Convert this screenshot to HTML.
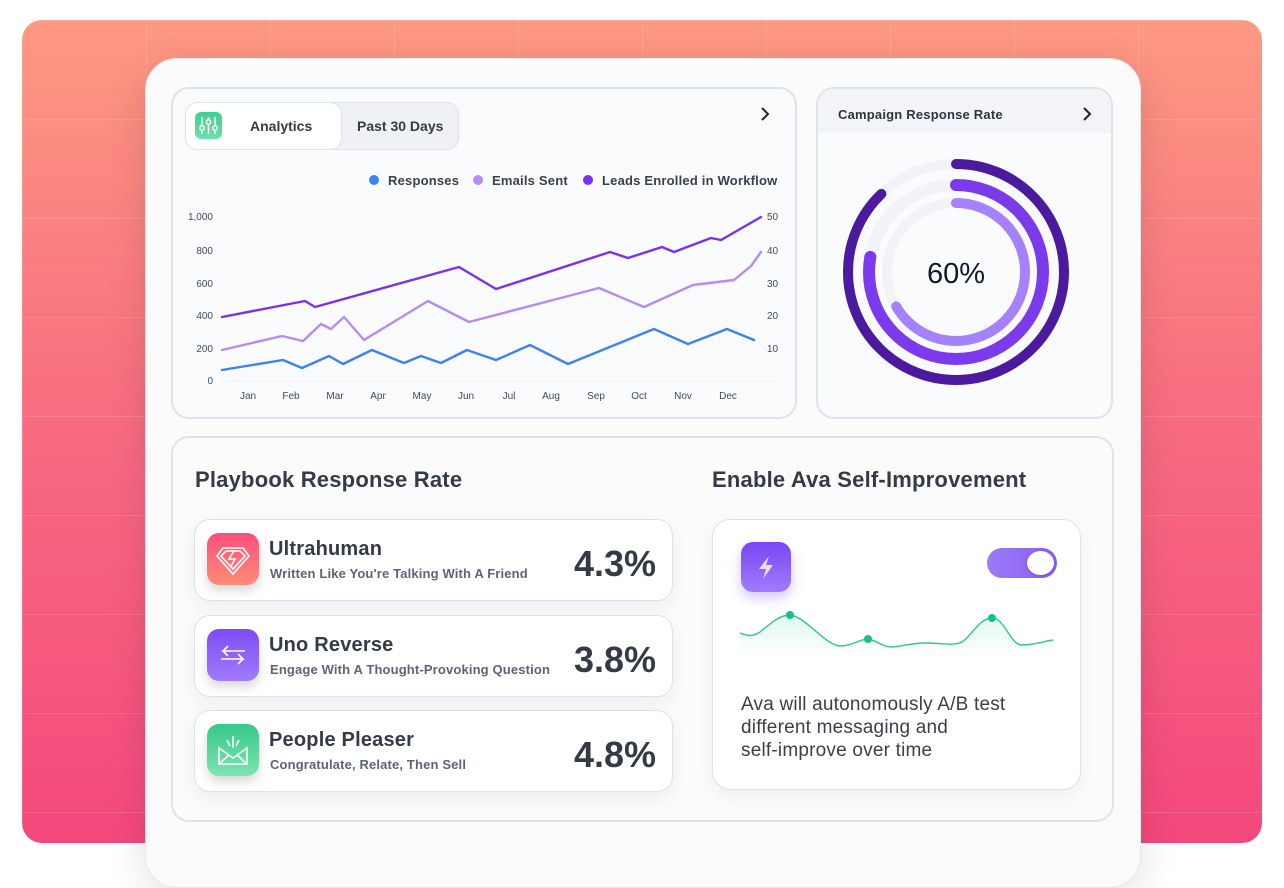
<!DOCTYPE html>
<html><head><meta charset="utf-8"><style>
*{margin:0;padding:0;box-sizing:border-box}
body{width:1284px;height:866px;background:#fff;position:relative;overflow:hidden;font-family:"Liberation Sans",sans-serif;color:#2f3441}
.abs{position:absolute}
.bg{left:22px;top:20px;width:1240px;height:823px;border-radius:20px;background:linear-gradient(180deg,#fd9982 0%,#f86f80 45%,#f4487d 100%);overflow:hidden}
.grid{position:absolute;inset:0;background-image:linear-gradient(rgba(255,255,255,.12) 1px,transparent 1px),linear-gradient(90deg,rgba(255,255,255,.12) 1px,transparent 1px);background-size:124px 99px;background-position:0 0}
.panel{left:145px;top:58px;width:996px;height:830px;border-radius:32px;background:#fbfbfc;border:1px solid #e6e8ee;box-shadow:0 10px 40px rgba(0,0,0,.12)}
.card{background:#fafbfc;border:2px solid #dfe3ea;border-radius:18px}
.item{left:194px;width:479px;height:82px;background:#fff;border:1.5px solid #dde1ea;border-radius:16px;box-shadow:0 6px 18px rgba(0,0,0,.06)}
.ico{position:absolute;left:12px;top:13px;width:52px;height:52px;border-radius:12px;box-shadow:0 6px 10px rgba(0,0,0,.15)}
.t1{position:absolute;left:74px;top:18px;font-size:20px;font-weight:bold;color:#353a46;letter-spacing:.2px}
.t2{position:absolute;left:75px;top:46px;font-size:13px;color:#5d6476;font-weight:bold;letter-spacing:.15px}
.pct{position:absolute;right:16px;top:23px;font-size:36px;font-weight:bold;color:#353a46}
.lg{font-size:13px;font-weight:bold;color:#3a3f4b;letter-spacing:.2px}
</style></head><body>
<div class="abs bg"><div class="grid"></div></div>
<div class="abs panel"></div>

<div class="abs card" style="left:171px;top:87px;width:626px;height:332px"></div>
<div class="abs" style="left:185px;top:102px;width:274px;height:48px;border:1.5px solid #dfe3ea;border-radius:12px;background:#eff1f5"></div>
<div class="abs" style="left:185px;top:102px;width:157px;height:48px;border:1.5px solid #dfe3ea;border-radius:12px;background:#fff"></div>
<div class="abs" style="left:195px;top:112px;width:27px;height:27px;border-radius:6px;background:linear-gradient(180deg,#3fcf8e,#6fe0a8)">
<svg width="27" height="27" viewBox="0 0 27 27" fill="none" stroke="#fff" stroke-width="1.5"><line x1="7" y1="5" x2="7" y2="22"/><line x1="13.5" y1="5" x2="13.5" y2="22"/><line x1="20" y1="5" x2="20" y2="22"/><circle cx="7" cy="16" r="2.2" fill="#4fd597"/><circle cx="13.5" cy="10" r="2.2" fill="#4fd597"/><circle cx="20" cy="16" r="2.2" fill="#4fd597"/></svg></div>
<div class="abs" style="left:250px;top:118px;font-size:14px;font-weight:bold;color:#353a46">Analytics</div>
<div class="abs" style="left:357px;top:118px;font-size:14px;font-weight:bold;color:#353a46">Past 30 Days</div>
<svg class="abs" style="left:758px;top:106px" width="14" height="16"><path d="M4 2 L10 8 L4 14" stroke="#222" stroke-width="2" fill="none"/></svg>
<div class="abs" style="left:369px;top:175px;width:10px;height:10px;border-radius:5px;background:#3b82f6"></div>
<div class="abs lg" style="left:388px;top:173px">Responses</div>
<div class="abs" style="left:473px;top:175px;width:10px;height:10px;border-radius:5px;background:#b58cf5"></div>
<div class="abs lg" style="left:492px;top:173px">Emails Sent</div>
<div class="abs" style="left:583px;top:175px;width:10px;height:10px;border-radius:5px;background:#7a2ff2"></div>
<div class="abs lg" style="left:602px;top:173px">Leads Enrolled in Workflow</div>

<svg class="abs" style="left:0;top:0" width="1284" height="866" font-family="Liberation Sans" font-size="10" fill="#444a58">
<line x1="220" y1="381" x2="780" y2="381" stroke="#eef0f5" stroke-width="1"/>
<g text-anchor="end"><text x="213" y="220">1,000</text><text x="213" y="254">800</text><text x="213" y="287">600</text><text x="213" y="319">400</text><text x="213" y="352">200</text><text x="213" y="384">0</text></g>
<g><text x="767" y="220">50</text><text x="767" y="254">40</text><text x="767" y="287">30</text><text x="767" y="319">20</text><text x="767" y="352">10</text></g>
<g text-anchor="middle"><text x="248" y="399">Jan</text><text x="291" y="399">Feb</text><text x="335" y="399">Mar</text><text x="378" y="399">Apr</text><text x="422" y="399">May</text><text x="466" y="399">Jun</text><text x="509" y="399">Jul</text><text x="551" y="399">Aug</text><text x="596" y="399">Sep</text><text x="639" y="399">Oct</text><text x="683" y="399">Nov</text><text x="728" y="399">Dec</text></g>
<g fill="none" stroke-width="2.4" stroke-linejoin="round" stroke-linecap="round">
<polyline stroke="#7a2ff2" points="222,317 305,301 315,307 459,267 496,289 610,252 628,258 662,247 674,252 711,238 721,240 761,217"/>
<polyline stroke="#b58cf5" points="222,350 282,336 303,341 321,324 331,329 344,317 364,340 428,301 469,322 599,288 644,307 693,285 734,280 751,266 761,252"/>
<polyline stroke="#3b82f6" points="222,370 283,360 302,368 329,356 343,364 372,350 404,363 421,356 441,363 467,350 496,360 530,345 568,364 654,329 688,344 727,329 754,340"/>
</g>
</svg>

<div class="abs card" style="left:816px;top:87px;width:297px;height:332px"></div>
<div class="abs" style="left:818px;top:89px;width:293px;height:44px;background:#f3f4f7;border-radius:16px 16px 0 0"></div>
<div class="abs" style="left:838px;top:107px;font-size:13px;font-weight:bold;color:#2f3441;letter-spacing:.2px">Campaign Response Rate</div>
<svg class="abs" style="left:1080px;top:106px" width="14" height="16"><path d="M4 2 L10 8 L4 14" stroke="#222" stroke-width="2" fill="none"/></svg>
<svg class="abs" style="left:0;top:0" width="1284" height="866">
<g fill="none" stroke-linecap="round" transform="rotate(-90 956 272)">
<circle cx="956" cy="272" r="108" stroke="#f2f3f7" stroke-width="10"/>
<circle cx="956" cy="272" r="87" stroke="#f2f3f7" stroke-width="12"/>
<circle cx="956" cy="272" r="69" stroke="#f2f3f7" stroke-width="10"/>
<circle cx="956" cy="272" r="108" stroke="#4c1a9e" stroke-width="10" stroke-dasharray="596 1000"/>
<circle cx="956" cy="272" r="87" stroke="#7c3aed" stroke-width="12" stroke-dasharray="425 1000"/>
<circle cx="956" cy="272" r="69" stroke="#a582fb" stroke-width="10" stroke-dasharray="289 1000"/>
</g>
<text x="956" y="283" text-anchor="middle" font-family="Liberation Sans" font-size="29" fill="#111827">60%</text>
</svg>

<div class="abs card" style="left:171px;top:436px;width:943px;height:386px;background:#fbfbfc"></div>
<div class="abs" style="left:195px;top:467px;font-size:22px;font-weight:bold;color:#353a46;letter-spacing:.2px">Playbook Response Rate</div>
<div class="abs" style="left:712px;top:467px;font-size:22px;font-weight:bold;color:#353a46;letter-spacing:.2px">Enable Ava Self-Improvement</div>

<div class="abs item" style="top:519px"><div class="ico" style="background:linear-gradient(180deg,#fb4f7a,#ff8c78)"><svg width="52" height="52" viewBox="0 0 52 52" fill="none" stroke="#fff" stroke-width="1.6"><path d="M16 15 H36 L42 23 L26 41 L10 23 Z"/><path d="M19 18 H33 L38 23 L26 36 L14 23 Z"/><path d="M27 18 L22 26 H28 L24 33"/></svg></div><div class="t1">Ultrahuman</div><div class="t2">Written Like You're Talking With A Friend</div><div class="pct">4.3%</div></div>
<div class="abs item" style="top:615px"><div class="ico" style="background:linear-gradient(180deg,#7c4bf5,#a07cfb)"><svg width="52" height="52" viewBox="0 0 52 52" fill="none" stroke="#fff" stroke-width="1.6"><path d="M38 22 H16 L21 17 M16 22 L21 27"/><path d="M14 30 H36 L31 25 M36 30 L31 35"/></svg></div><div class="t1">Uno Reverse</div><div class="t2">Engage With A Thought-Provoking Question</div><div class="pct">3.8%</div></div>
<div class="abs item" style="top:710px"><div class="ico" style="background:linear-gradient(180deg,#35c98a,#7fe3b0)"><svg width="52" height="52" viewBox="0 0 52 52" fill="none" stroke="#fff" stroke-width="1.6"><path d="M12 24 V40 H40 V24 L26 34 Z"/><path d="M12 40 L22 31 M40 40 L30 31"/><path d="M26 12 V24 M20 16 L23 22 M32 16 L29 22"/></svg></div><div class="t1">People Pleaser</div><div class="t2">Congratulate, Relate, Then Sell</div><div class="pct">4.8%</div></div>

<div class="abs" style="left:712px;top:519px;width:369px;height:271px;background:#fff;border:1.5px solid #dde1ea;border-radius:18px;box-shadow:0 6px 18px rgba(0,0,0,.05)"></div>
<div class="abs" style="left:741px;top:542px;width:50px;height:50px;border-radius:12px;background:linear-gradient(180deg,#7a45f3,#a07cfb);box-shadow:0 6px 12px rgba(120,70,240,.3)"><svg width="50" height="50" viewBox="0 0 50 50"><path d="M28 14 L18 27 H25 L22 37 L32 23 H25 Z" fill="#e9ddff"/></svg></div>
<div class="abs" style="left:987px;top:548px;width:70px;height:30px;border-radius:15px;background:linear-gradient(90deg,#9a7bf7,#8b5cf6)"></div>
<div class="abs" style="left:1027px;top:551px;width:27px;height:24px;border-radius:50%;background:#fff;box-shadow:0 1px 3px rgba(0,0,0,.2)"></div>
<svg class="abs" style="left:0;top:0" width="1284" height="866">
<defs><linearGradient id="g" x1="0" y1="0" x2="0" y2="1"><stop offset="0" stop-color="#2ec88e" stop-opacity=".15"/><stop offset="1" stop-color="#2ec88e" stop-opacity="0"/></linearGradient></defs>
<path d="M740,633 C748,636 752,637 760,632 C772,622 780,615 790,615 C805,616 825,645 840,646 C852,646 860,639 868,639 C876,640 882,647 892,647 C905,646 912,643 925,643 C940,643 955,646 962,642 C972,635 980,618 992,618 C1005,618 1010,645 1022,645 C1035,645 1045,641 1053,640 L1053,658 L740,658 Z" fill="url(#g)"/>
<path d="M740,633 C748,636 752,637 760,632 C772,622 780,615 790,615 C805,616 825,645 840,646 C852,646 860,639 868,639 C876,640 882,647 892,647 C905,646 912,643 925,643 C940,643 955,646 962,642 C972,635 980,618 992,618 C1005,618 1010,645 1022,645 C1035,645 1045,641 1053,640" fill="none" stroke="#2ec88e" stroke-width="1.4"/>
<circle cx="790" cy="615" r="4" fill="#14c285"/><circle cx="868" cy="639" r="4" fill="#14c285"/><circle cx="992" cy="618" r="4" fill="#14c285"/>
</svg>
<div class="abs" style="left:741px;top:693px;font-size:19px;line-height:23px;color:#3a3f4b;letter-spacing:.2px">Ava will autonomously A/B test<br>different messaging and<br>self-improve over time</div>
</body></html>
